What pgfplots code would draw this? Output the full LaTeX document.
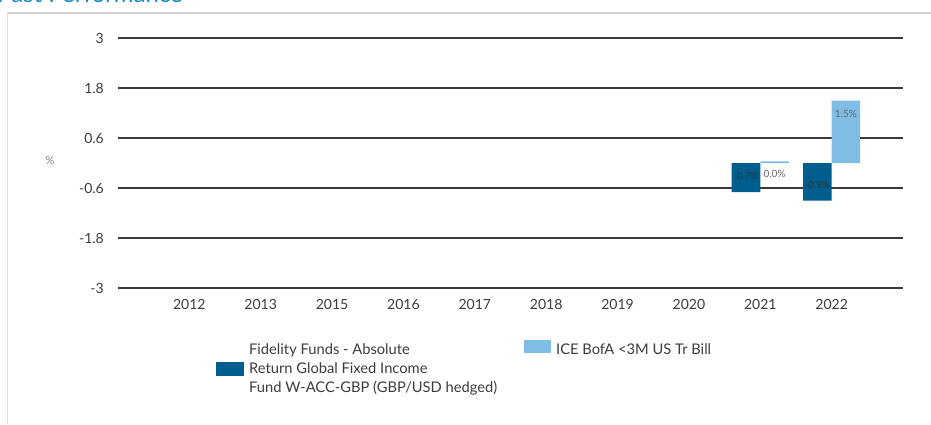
\documentclass[border=0pt]{standalone}
\usepackage{fontspec}
\setmainfont{Lato}
\usepackage{pgfplots}
\pgfplotsset{compat=1.18}
\definecolor{darkbar}{HTML}{005E8E}
\definecolor{lightbar}{HTML}{80BDE4}
\definecolor{gridc}{HTML}{3A3A3A}
\definecolor{txt}{HTML}{3C3C3C}
\definecolor{titleblue}{HTML}{1C8AC0}
\begin{document}
\begin{tikzpicture}
\useasboundingbox (0pt,0pt) rectangle (931pt,424pt);
\draw[color=black!18, line width=2pt] (7pt,411pt) -- (931pt,411pt);
\draw[color=black!12, line width=1pt] (7pt,411pt) -- (7pt,0pt);
\node[anchor=base west, font=\fontsize{24}{28}\selectfont, text=titleblue, inner sep=0pt] at (-3pt,421pt) {Past Performance};
\begin{axis}[
  at={(118pt,136pt)}, anchor=south west,
  scale only axis, width=785pt, height=250pt,
  xmin=-1, xmax=10, ymin=-3, ymax=3,
  /pgf/number format/assume math mode=true,
  ytick={-3,-1.8,-0.6,0.6,1.8,3},
  yticklabels={-3,-1.8,-0.6,0.6,1.8,3},
  xtick={0,...,9},
  xticklabels={2012,2013,2015,2016,2017,2018,2019,2020,2021,2022},
  axis line style={draw=none},
  major tick length=0pt,
  ymajorgrids,
  grid style={gridc, line width=2.6pt},
  clip=false,
  tick label style={font=\fontsize{14}{16}\selectfont, text=txt},
  yticklabel style={anchor=east, inner sep=0pt, xshift=-14pt},
  xticklabel style={anchor=north, inner sep=0pt, yshift=-11pt},
  ylabel={\%},
  every axis y label/.style={at={(axis description cs:-0.0866,0.508)}, anchor=center, font=\fontsize{11}{13}\selectfont, text=black!50},
  ybar,
  legend style={draw=none, fill=none, inner sep=0pt, nodes={inner sep=0pt},
    at={(axis description cs:0.1248,-0.206)}, anchor=north west,
    font=\fontsize{14.7}{19}\selectfont, text=txt, legend columns=2,
    column sep=0pt,
    /tikz/every odd column/.append style={column sep=5pt}},
  legend cell align=left,
]
\addplot[bar width=0.4, bar shift=-0.2, fill=darkbar, draw=none,
  legend image code/.code={\fill[darkbar] (0pt,-26pt) rectangle (28pt,-12pt);},
  nodes near coords={\pgfmathprintnumber[fixed,fixed zerofill,precision=1]{\pgfplotspointmeta}\%},
  nodes near coords style={anchor=center, yshift=16pt, font=\fontsize{10}{11}\selectfont, text=black!80}]
  coordinates {(8,-0.7) (9,-0.9)};
\addlegendentry{\parbox[t]{275pt}{Fidelity Funds - Absolute\\Return Global Fixed Income\\Fund W-ACC-GBP (GBP/USD hedged)}}
\addplot[bar width=0.4, bar shift=0.2, fill=lightbar, draw=none,
  legend image code/.code={\fill[lightbar] (0pt,-3pt) rectangle (27pt,10pt);},
  nodes near coords={\pgfmathprintnumber[fixed,fixed zerofill,precision=1]{\pgfplotspointmeta}\%},
  nodes near coords style={anchor=center, yshift=-13pt, font=\fontsize{10}{11}\selectfont, text=black!60}]
  coordinates {(8,0.04) (9,1.5)};
\addlegendentry{ICE BofA <3M US Tr Bill}
\end{axis}
\end{tikzpicture}
\end{document}
